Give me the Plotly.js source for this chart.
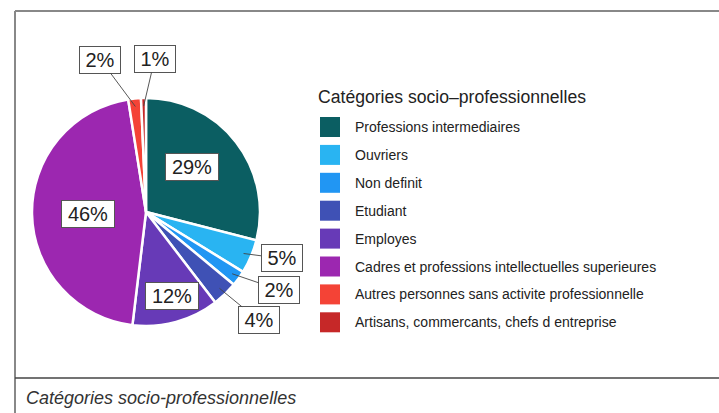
<!DOCTYPE html>
<html>
<head>
<meta charset="utf-8">
<script src="https://cdn.plot.ly/plotly-3.0.1.min.js"></script>
<style>html,body{margin:0;padding:0;background:#fff;}#chart{width:719px;height:413px;}</style>
</head>
<body>
<div id="chart"></div>
<script>
// ---- data ----
const categories = [
  "Professions intermediaires",
  "Ouvriers",
  "Non definit",
  "Etudiant",
  "Employes",
  "Cadres et professions intellectuelles superieures",
  "Autres personnes sans activite professionnelle",
  "Artisans, commercants, chefs d entreprise"
];
const shares = [29.0, 4.8, 2.2, 3.6, 12.3, 45.6, 1.8, 0.7];
const legendTitle = "Catégories socio–professionnelles";
const caption = "Catégories socio-professionnelles";

// ---- style ----
const colors = ["#0b5e62", "#29b4f2", "#2196f3", "#3f51b5", "#673ab7", "#9c27b0", "#f44336", "#c62828"];
const W = 719, H = 413;
const px = x => x / W, py = y => 1 - y / H;
const pieDomain = {x: [px(32), px(260)], y: [py(326), py(98)]};
// label placement: inside -> polar (radius factor, angle tweak); outside -> anchor radius + pixel offset
const labelPlace = [
  {inside: true, r: 0.56, da: -6.5},
  {inside: false, r: 0.93, dx: 38, dy: 5},
  {inside: false, r: 0.93, dx: 47, dy: 16},
  {inside: false, r: 0.93, dx: 39, dy: 32},
  {inside: true, r: 0.77, da: -2},
  {inside: true, r: 0.51, da: -1},
  {inside: false, r: 0.93, dx: -35, dy: -47},
  {inside: false, r: 0.93, dx: 11, dy: -47}
];
const font = "Liberation Sans, Arial, sans-serif";

const total = shares.reduce((a, b) => a + b, 0);
const cx = (pieDomain.x[0] + pieDomain.x[1]) / 2 * W;
const cy = (1 - (pieDomain.y[0] + pieDomain.y[1]) / 2) * H;
const R = Math.min((pieDomain.x[1] - pieDomain.x[0]) * W, (pieDomain.y[1] - pieDomain.y[0]) * H) / 2;

const annotations = [];
let cum = 0;
shares.forEach((v, i) => {
  const mid = (cum + v / 2) / total * 360;
  cum += v;
  const pct = Math.round(v / total * 100) + "%";
  const p = labelPlace[i];
  const boxW = pct.length === 2 ? 34 : 46;
  const common = {
    text: pct, xref: "paper", yref: "paper",
    font: {family: font, size: 20, color: "#222"},
    bgcolor: "#ffffff", bordercolor: "#555", borderwidth: 1, borderpad: 3,
    width: boxW, height: 20, align: "center", valign: "middle"
  };
  if (p.inside) {
    const a = (mid + p.da) * Math.PI / 180;
    const x = cx + p.r * R * Math.sin(a), y = cy - p.r * R * Math.cos(a);
    annotations.push(Object.assign({}, common, {x: px(x), y: py(y), showarrow: false, xanchor: "center", yanchor: "middle"}));
  } else {
    const a = mid * Math.PI / 180;
    const x = cx + p.r * R * Math.sin(a), y = cy - p.r * R * Math.cos(a);
    annotations.push(Object.assign({}, common, {
      x: px(x), y: py(y), showarrow: true, arrowhead: 0, arrowwidth: 0.9, arrowcolor: "#444",
      ax: p.dx, ay: p.dy, standoff: 0
    }));
  }
});

// custom legend
const shapes = [];
const legX = 320, legTextX = 353, legY0 = 127, legStep = 27.9, sw = 20;
annotations.push({text: legendTitle, xref: "paper", yref: "paper", x: px(316), y: py(97),
  xanchor: "left", yanchor: "middle", showarrow: false, font: {family: font, size: 17.6, color: "#222"}});
categories.forEach((c, i) => {
  const yc = legY0 + i * legStep;
  shapes.push({type: "rect", xref: "paper", yref: "paper", x0: px(legX), x1: px(legX + sw),
    y0: py(yc + sw / 2), y1: py(yc - sw / 2), fillcolor: colors[i], line: {width: 0}});
  annotations.push({text: c, xref: "paper", yref: "paper", x: px(legTextX), y: py(yc),
    xanchor: "left", yanchor: "middle", showarrow: false, font: {family: font, size: 14, color: "#222"}});
});

// frame
shapes.push({type: "line", xref: "paper", yref: "paper", x0: px(15), x1: 1, y0: py(11), y1: py(11), line: {color: "#888", width: 2}});
shapes.push({type: "line", xref: "paper", yref: "paper", x0: px(15), x1: px(15), y0: py(11), y1: 0, line: {color: "#888", width: 2}});
shapes.push({type: "line", xref: "paper", yref: "paper", x0: px(15), x1: 1, y0: py(378), y1: py(378), line: {color: "#444", width: 1.5}});
annotations.push({text: "<i>" + caption + "</i>", xref: "paper", yref: "paper", x: px(24), y: py(398),
  xanchor: "left", yanchor: "middle", showarrow: false, font: {family: font, size: 18, color: "#333"}});

const trace = {
  type: "pie", labels: categories, values: shares, sort: false, direction: "clockwise", rotation: 0,
  marker: {colors: colors, line: {color: "#ffffff", width: 2.5}},
  textinfo: "none", hoverinfo: "skip", showlegend: false, domain: pieDomain
};

Plotly.newPlot("chart", [trace], {
  width: W, height: H, margin: {l: 0, r: 0, t: 0, b: 0},
  paper_bgcolor: "#ffffff", plot_bgcolor: "#ffffff", showlegend: false,
  shapes: shapes, annotations: annotations
}, {staticPlot: true});
</script>
</body>
</html>
